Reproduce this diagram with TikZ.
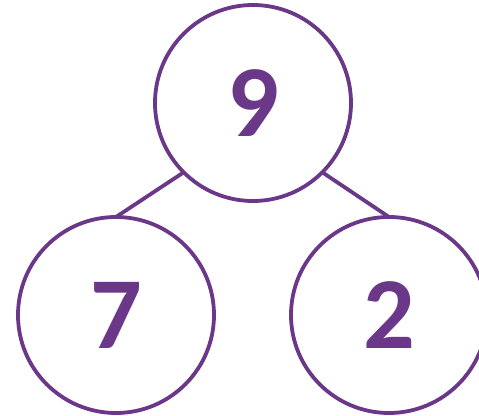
\documentclass[tikz,border=0pt]{standalone}
\usepackage{fontspec}
\setmainfont{Carlito}
\usetikzlibrary{positioning}
\definecolor{bondpurple}{RGB}{107,55,137}

\begin{document}
\begin{tikzpicture}[x=1pt, y=1pt,
    bubble/.style={circle, draw=bondpurple, line width=3.8pt, minimum size=196pt,
        inner sep=0pt, outer sep=0pt, text=bondpurple, font=\fontsize{102}{102}\selectfont\bfseries},
    link/.style={draw=bondpurple, line width=3.8pt}]

\useasboundingbox (0,0) rectangle (479,415);

% Whole
\node[bubble] (whole) at (253,312) {9};

% Parts
\node[bubble] (partA) at (116,100) {7};
\node[bubble] (partB) at (389,100) {2};

% Links
\draw[link] (whole.-135) -- (partA.north);
\draw[link] (whole.-45) -- (partB.north);

\end{tikzpicture}
\end{document}
